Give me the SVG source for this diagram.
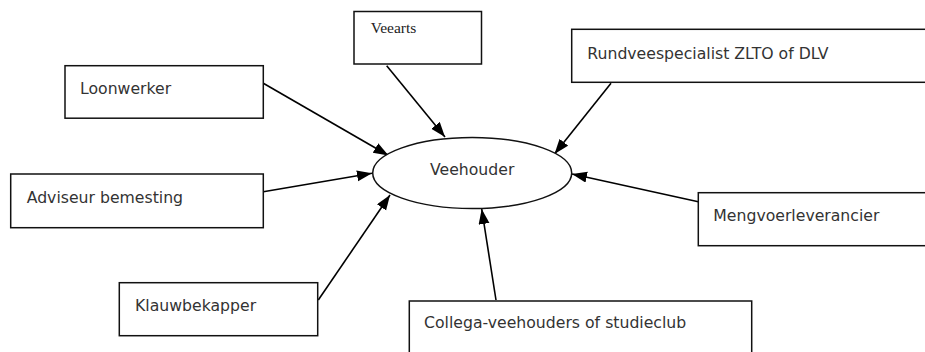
<svg xmlns="http://www.w3.org/2000/svg" width="925" height="352" viewBox="0 0 925 352">
<style>
.box{fill:#fff;stroke:#111;stroke-width:1.5}
.t{font-family:"DejaVu Sans",Verdana,sans-serif;font-size:15.7px;fill:#333}
.ts{font-family:"Liberation Serif","Times New Roman",serif;font-size:15.5px;fill:#222}
.c{stroke:#000;stroke-width:1.6;fill:none;marker-end:url(#ah)}
</style>
<defs>
<marker id="ah" markerUnits="userSpaceOnUse" markerWidth="16" markerHeight="12" refX="15" refY="5.5" orient="auto">
<path d="M0,0 L15,5.5 L0,11 z" fill="#000"/>
</marker>
</defs>
<rect width="925" height="352" fill="#fff"/>
<g id="connectors">
<line class="c" x1="263.3" y1="83.3" x2="388.5" y2="155.5"/>
<line class="c" x1="386.7" y1="65.7" x2="445" y2="137"/>
<line class="c" x1="611" y1="83.3" x2="554.5" y2="154"/>
<line class="c" x1="263.3" y1="191.7" x2="372" y2="173.3"/>
<line class="c" x1="318.3" y1="300" x2="390" y2="195"/>
<line class="c" x1="496" y1="300" x2="481.7" y2="209"/>
<line class="c" x1="698.3" y1="201.7" x2="572" y2="174"/>
</g>
<g id="veehouder">
<ellipse class="box" cx="472.2" cy="173" rx="99.5" ry="35.5"/>
<text class="t" x="472.2" y="175" text-anchor="middle">Veehouder</text>
</g>
<g id="veearts">
<rect class="box" x="354" y="11.5" width="127.5" height="52.5"/>
<text class="ts" x="370.7" y="33.3">Veearts</text>
</g>
<g id="loonwerker">
<rect class="box" x="65" y="65.7" width="198.3" height="52.5"/>
<text class="t" x="80" y="94">Loonwerker</text>
</g>
<g id="rundveespecialist">
<rect class="box" x="571.7" y="29.3" width="360" height="53"/>
<text class="t" x="587.3" y="59">Rundveespecialist ZLTO of DLV</text>
</g>
<g id="adviseur">
<rect class="box" x="10.7" y="174" width="252.6" height="53.7"/>
<text class="t" x="26.7" y="202.7">Adviseur bemesting</text>
</g>
<g id="mengvoer">
<rect class="box" x="698.3" y="192.7" width="240" height="53"/>
<text class="t" x="713.3" y="221">Mengvoerleverancier</text>
</g>
<g id="klauwbekapper">
<rect class="box" x="119.3" y="282.7" width="198.4" height="53"/>
<text class="t" x="135" y="311">Klauwbekapper</text>
</g>
<g id="collega">
<rect class="box" x="409.3" y="301" width="342.4" height="60"/>
<text class="t" x="424" y="328">Collega-veehouders of studieclub</text>
</g>
</svg>
